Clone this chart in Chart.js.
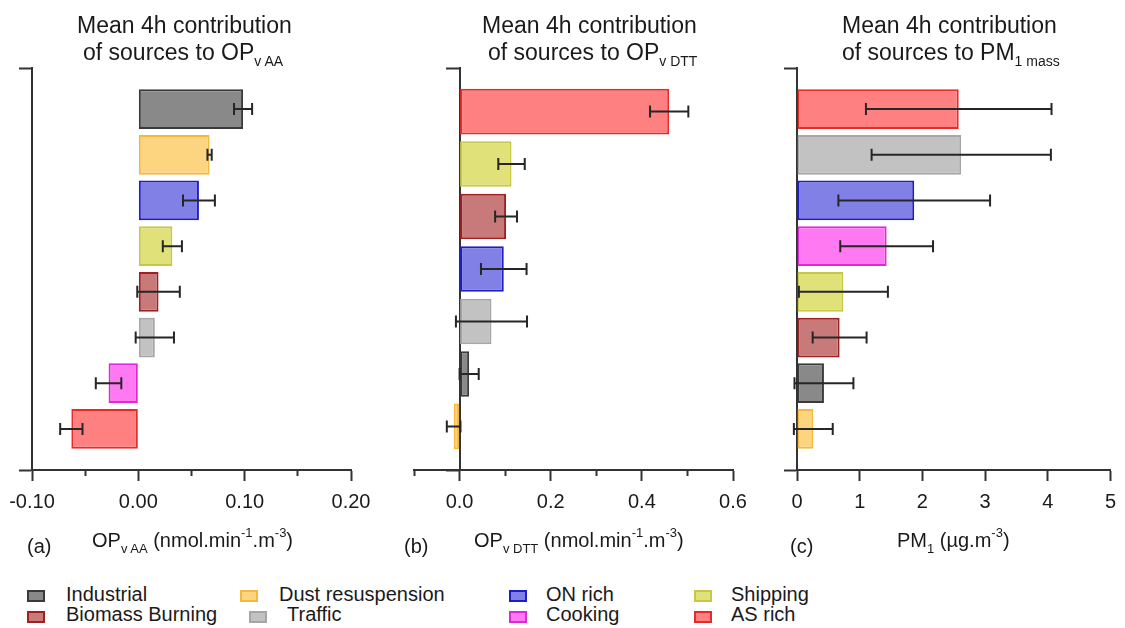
<!DOCTYPE html>
<html>
<head>
<meta charset="utf-8">
<title>Mean 4h contribution of sources</title>
<script src="https://cdn.jsdelivr.net/npm/chart.js@4.4.1/dist/chart.umd.min.js"></script>
<style>
  html, body { margin: 0; padding: 0; background: #fff; }
  #fig { position: relative; width: 1125px; height: 628px; overflow: hidden;
         font-family: "Liberation Sans", Arial, sans-serif; color: #1a1a1a; }
  #fig canvas { position: absolute; top: 0; }
  .t { position: absolute; white-space: nowrap; font-size: 23px; line-height: 23px; }
  .t sub { font-size: 14px; vertical-align: -6px; line-height: 0; }
  .ax { position: absolute; white-space: nowrap; font-size: 20px; line-height: 20px; }
  .ax sub { font-size: 13px; vertical-align: -6px; line-height: 0; }
  .ax sup { font-size: 13px; vertical-align: 10px; line-height: 0; }
  .lg { position: absolute; white-space: nowrap; font-size: 20px; line-height: 20px; }
  .sw { position: absolute; width: 14px; height: 8px; border: 2px solid; }
</style>
</head>
<body>
<div id="fig">
  <canvas id="cA" width="380" height="540" style="left:0px;width:380px;height:540px"></canvas>
  <canvas id="cB" width="380" height="540" style="left:380px;width:380px;height:540px"></canvas>
  <canvas id="cC" width="365" height="540" style="left:760px;width:365px;height:540px"></canvas>

  <div class="t" style="left:77px;top:13.5px">Mean 4h contribution</div>
  <div class="t" style="left:83px;top:40.5px">of sources to OP<sub>v AA</sub></div>
  <div class="t" style="left:482px;top:13.5px">Mean 4h contribution</div>
  <div class="t" style="left:488px;top:40.5px">of sources to OP<sub>v DTT</sub></div>
  <div class="t" style="left:842px;top:13.5px">Mean 4h contribution</div>
  <div class="t" style="left:842px;top:40.5px">of sources to PM<sub>1 mass</sub></div>

  <div class="ax" style="left:27px;top:536px">(a)</div>
  <div class="ax" style="left:92px;top:530px">OP<sub>v AA</sub> (nmol.min<sup>-1</sup>.m<sup>-3</sup>)</div>
  <div class="ax" style="left:404px;top:536px">(b)</div>
  <div class="ax" style="left:474px;top:530px">OP<sub>v DTT</sub> (nmol.min<sup>-1</sup>.m<sup>-3</sup>)</div>
  <div class="ax" style="left:790px;top:536px">(c)</div>
  <div class="ax" style="left:897px;top:530px">PM<sub>1</sub> (µg.m<sup>-3</sup>)</div>

  <div id="legend"></div>
</div>

<script>
// Source categories, top to bottom, for each panel
const sourcesA = ['Industrial', 'Dust resuspension', 'ON rich', 'Shipping', 'Biomass Burning', 'Traffic', 'Cooking', 'AS rich'];
const sourcesB = ['AS rich', 'Shipping', 'Biomass Burning', 'ON rich', 'Traffic', 'Industrial', 'Dust resuspension'];
const sourcesC = ['AS rich', 'Traffic', 'ON rich', 'Cooking', 'Shipping', 'Biomass Burning', 'Industrial', 'Dust resuspension'];

// Mean contributions and their error (± half-width)
const opAA     = [0.0985, 0.067, 0.057, 0.032, 0.019, 0.0155, -0.028, -0.063];
const opAAErr  = [0.0085, 0.002, 0.015, 0.009, 0.020, 0.018, 0.012, 0.0105];
const opDTT    = [0.460, 0.114, 0.102, 0.097, 0.070, 0.021, -0.013];
const opDTTErr = [0.042, 0.029, 0.024, 0.050, 0.078, 0.021, 0.015];
const pm1      = [2.58, 2.62, 1.87, 1.43, 0.74, 0.68, 0.43, 0.26];
const pm1Err   = [1.48, 1.43, 1.21, 0.74, 0.71, 0.43, 0.47, 0.31];

// Axis ticks (labelled majors, unlabelled minors)
const ticksA = [-0.10, 0.00, 0.10, 0.20];
const minorA = [-0.05, 0.05, 0.15];
const ticksB = [0.0, 0.2, 0.4, 0.6];
const minorB = [-0.1, 0.1, 0.3, 0.5];
const ticksC = [0, 1, 2, 3, 4, 5];

// Legend layout: [name, column, row]
const legendItems = [
  ['Industrial', 0, 0], ['Biomass Burning', 0, 1],
  ['Dust resuspension', 1, 0], ['Traffic', 1, 1],
  ['ON rich', 2, 0], ['Cooking', 2, 1],
  ['Shipping', 3, 0], ['AS rich', 3, 1]
];

// fill, border
const palette = {
  'Industrial':        ['#898989', '#3a3a3a'],
  'Dust resuspension': ['#fdd580', '#f5b83c'],
  'ON rich':           ['#8080e6', '#1e1ec8'],
  'Shipping':          ['#e1e17a', '#c8c848'],
  'Biomass Burning':   ['#c87a7a', '#a02020'],
  'Traffic':           ['#c2c2c2', '#a6a6a6'],
  'Cooking':           ['#ff7af2', '#e028d8'],
  'AS rich':           ['#ff8080', '#e82a2a']
};

const FONT = '"Liberation Sans", Arial, sans-serif';
const AXIS = '#333333';

const errorBars = {
  id: 'errorBars',
  afterDatasetsDraw(chart) {
    const ctx = chart.ctx;
    const xs = chart.scales.x;
    chart.data.datasets.forEach((ds, di) => {
      const meta = chart.getDatasetMeta(di);
      meta.data.forEach((bar, i) => {
        const v = ds.data[i].x, e = ds.errors[i];
        const x1 = xs.getPixelForValue(v - e);
        const x2 = xs.getPixelForValue(v + e);
        const y = bar.y;
        ctx.save();
        ctx.strokeStyle = '#262626';
        ctx.lineWidth = 2;
        ctx.beginPath();
        ctx.moveTo(x1, y); ctx.lineTo(x2, y);
        ctx.moveTo(x1, y - 6); ctx.lineTo(x1, y + 6);
        ctx.moveTo(x2, y - 6); ctx.lineTo(x2, y + 6);
        ctx.stroke();
        ctx.restore();
      });
    });
  }
};

function makePanel(id, names, vals, errs, cfg) {
  const scales = {
    x: {
      type: 'linear', position: 'bottom', min: cfg.xMin, max: cfg.xMax,
      afterBuildTicks: s => { s.ticks = cfg.major.map(v => ({ value: v })); },
      ticks: { callback: v => Number(v).toFixed(cfg.dec), font: { family: FONT, size: 20 },
               color: '#1a1a1a', padding: 9, maxRotation: 0, autoSkip: false },
      grid: { drawOnChartArea: false, drawTicks: true, tickLength: 11, tickWidth: 2, tickColor: AXIS },
      border: { display: true, color: AXIS, width: 2 },
      afterFit: s => { s.height = 50; }
    },
    y: {
      type: 'linear', position: cfg.yAtZero ? { x: 0 } : 'left', reverse: true,
      min: cfg.yMin, max: cfg.yMax, offset: false,
      afterBuildTicks: s => { s.ticks = [{ value: cfg.yMin }, { value: cfg.yMax }]; },
      ticks: { display: false },
      grid: { offset: false, drawOnChartArea: false, drawTicks: true, tickLength: 13, tickWidth: 2, tickColor: AXIS },
      border: { display: true, color: AXIS, width: 2 },
      afterFit: s => { if (!cfg.yAtZero) s.width = 13; }
    }
  };
  if (cfg.minor) {
    scales.xMinor = {
      type: 'linear', axis: 'x', position: { y: cfg.yMax }, min: cfg.xMin, max: cfg.xMax,
      afterBuildTicks: s => { s.ticks = cfg.minor.map(v => ({ value: v })); },
      ticks: { display: false },
      grid: { drawOnChartArea: false, drawTicks: true, tickLength: 6, tickWidth: 2, tickColor: AXIS },
      border: { display: false }
    };
  }
  return new Chart(document.getElementById(id), {
    type: 'bar',
    data: {
      datasets: [{
        data: vals.map((v, i) => ({ x: v, y: i })),
        errors: errs,
        xAxisID: 'x', yAxisID: 'y',
        backgroundColor: names.map(n => palette[n][0]),
        borderColor: names.map(n => palette[n][1]),
        borderWidth: 2,
        borderSkipped: false,
        barPercentage: 0.87,
        categoryPercentage: 1
      }]
    },
    options: {
      indexAxis: 'y',
      responsive: false,
      animation: false,
      devicePixelRatio: 1,
      layout: { padding: cfg.pad },
      plugins: { legend: { display: false }, tooltip: { enabled: false } },
      scales
    },
    plugins: [errorBars]
  });
}

makePanel('cA', sourcesA, opAA, opAAErr, {
  xMin: -0.10, xMax: 0.20, major: ticksA, minor: minorA, dec: 2,
  yMin: -0.9, yMax: 7.9, yAtZero: false,
  pad: { left: 19, right: 29, top: 68, bottom: 20 }
});
makePanel('cB', sourcesB, opDTT, opDTTErr, {
  xMin: -0.1, xMax: 0.6, major: ticksB, minor: minorB, dec: 1,
  yMin: -0.83, yMax: 6.83, yAtZero: true,
  pad: { left: 34, right: 27, top: 68, bottom: 20 }
});
makePanel('cC', sourcesC, pm1, pm1Err, {
  xMin: 0, xMax: 5, major: ticksC, minor: null, dec: 0,
  yMin: -0.9, yMax: 7.9, yAtZero: false,
  pad: { left: 24, right: 9, top: 68, bottom: 20 }
});

// Legend (HTML): swatch + name in a 4 x 2 grid
const legend = document.getElementById('legend');
const colSwatch = [27, 240, 509, 694];
const colText = [66, 279, 546, 731];
const rowSwatch = [590, 611];
const rowText = [584, 604];
legendItems.forEach(([name, c, r]) => {
  const sw = document.createElement('div');
  sw.className = 'sw';
  let sx = colSwatch[c], tx = colText[c];
  if (name === 'Traffic') { sx += 9; tx += 8; }
  sw.style.left = sx + 'px';
  sw.style.top = rowSwatch[r] + 'px';
  sw.style.background = palette[name][0];
  sw.style.borderColor = palette[name][1];
  legend.appendChild(sw);
  const tl = document.createElement('div');
  tl.className = 'lg';
  tl.style.left = tx + 'px';
  tl.style.top = rowText[r] + 'px';
  tl.textContent = name;
  legend.appendChild(tl);
});
</script>
</body>
</html>
